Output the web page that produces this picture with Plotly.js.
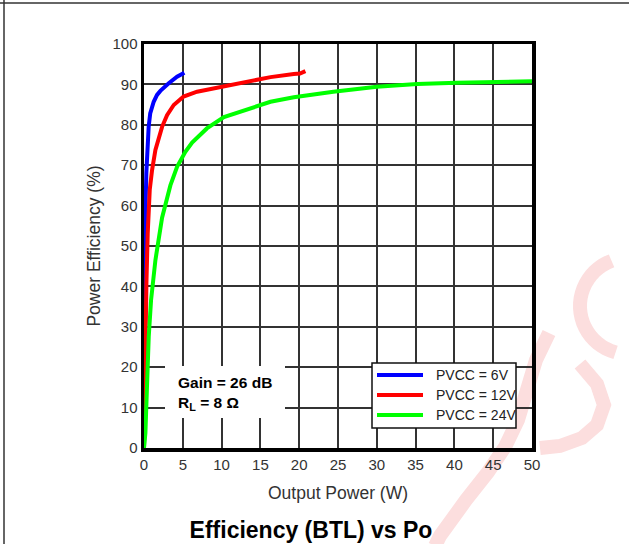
<!DOCTYPE html>
<html><head><meta charset="utf-8">
<script src="https://cdn.plot.ly/plotly-3.0.1.min.js"></script>
<style>html,body{margin:0;padding:0;background:#fff}#chart{width:629px;height:544px}</style>
</head><body><div id="chart"></div>
<script>
// ---- data ----
const seriesNames = ['PVCC = 6V', 'PVCC = 12V', 'PVCC = 24V'];
const seriesColors = ['#0000ff', '#ff0000', '#00ff00'];
const x6V  = [0, 0.05, 0.1, 0.2, 0.3, 0.4, 0.6, 0.8, 1.25, 1.68, 2.11, 3.19, 4.26, 5.2];
const y6V  = [0, 30, 45, 60, 68, 74, 79.5, 82.8, 85.7, 87.4, 88.4, 90.3, 91.9, 92.9];
const x12V = [0, 0.1, 0.18, 0.31, 0.48, 0.74, 1.04, 1.47, 2.33, 2.97, 3.83, 5.1, 6.84, 10.3, 13.9, 16.3, 19.3, 20.1, 20.8];
const y12V = [0, 18, 28.5, 40.8, 53.2, 63.9, 68.8, 73.8, 79.5, 82.4, 84.9, 87.0, 88.2, 89.6, 91.0, 91.8, 92.6, 92.7, 93.3];
const x24V = [0, 0.18, 0.4, 0.61, 0.91, 1.47, 2.33, 3.4, 4.26, 5.33, 6.2, 8.1, 10.3, 13.5, 16.3, 19.3, 24.4, 30, 35.2, 40.3, 45.5, 50];
const y24V = [0, 3.7, 16, 27.5, 36.6, 46.5, 57, 65, 69.6, 73.3, 75.6, 79.1, 81.9, 84, 85.7, 86.8, 88.2, 89.4, 90.1, 90.4, 90.7, 90.8];
const xTicks = [0, 5, 10, 15, 20, 25, 30, 35, 40, 45, 50];
const yTicks = [0, 10, 20, 30, 40, 50, 60, 70, 80, 90, 100];
const noteLines = ['<b>Gain = 26 dB</b>', '<b>R<sub>L</sub> = 8 Ω</b>'];
const chartTitle = '<b>Efficiency (BTL) vs Po</b>';
const xTitle = 'Output Power (W)';
const yTitle = 'Power Efficiency (%)';

// ---- geometry (pixel -> paper helpers for decorations) ----
const W = 629, H = 544;
const M = {l: 144, r: 97, t: 44, b: 96};
const PW = W - M.l - M.r, PH = H - M.t - M.b;
const px = p => (p - M.l) / PW;
const py = p => (H - M.b - p) / PH;
const FONT = 'Liberation Sans, Arial, sans-serif';

const xs = [x6V, x12V, x24V], ys = [y6V, y12V, y24V];
const traces = xs.map((x, i) => ({
  x: x, y: ys[i], type: 'scatter', mode: 'lines', name: seriesNames[i],
  line: {color: seriesColors[i], width: 4}, showlegend: false
}));

const shapes = [];
const annotations = [];
// faint watermark strokes (pale, behind the grid)
function poly(pts) { return 'M' + pts.map(p => px(p[0]).toFixed(4) + ',' + py(p[1]).toFixed(4)).join(' L'); }
function arc(cx, cy, r, a0, a1) { const pts = []; for (let k = 0; k <= 24; k++) { const a = (a0 + (a1 - a0) * k / 24) * Math.PI / 180; pts.push([cx + r * Math.cos(a), cy + r * Math.sin(a)]); } return pts; }
const wm = {color: 'rgb(252,222,222)', width: 14};
[
  [[549, 333], [536, 360], [527, 390], [518, 420], [505, 447], [488, 472], [466, 500], [440, 536], [435, 546]],
  [[580, 364], [597, 384], [604, 405], [597, 425], [582, 438], [560, 446], [540, 448]],
  arc(628, 306, 48, 250, 105)
].forEach(p => shapes.push({type: 'path', xref: 'paper', yref: 'paper', layer: 'below', path: poly(p), line: wm}));
// outer frame lines
shapes.push({type: 'line', xref: 'paper', yref: 'paper', x0: px(0), x1: px(W), y0: py(3), y1: py(3), line: {color: '#333', width: 1.5}});
shapes.push({type: 'line', xref: 'paper', yref: 'paper', x0: px(4), x1: px(4), y0: py(0), y1: py(H), line: {color: '#333', width: 1.5}});
// note box (white, masks grid)
shapes.push({type: 'rect', xref: 'paper', yref: 'paper', layer: 'above', x0: px(165), x1: px(285), y0: py(366), y1: py(418), fillcolor: '#fff', line: {width: 0}});
annotations.push({xref: 'paper', yref: 'paper', x: px(176), y: py(393), xanchor: 'left', yanchor: 'middle', align: 'left',
  text: noteLines.join('<br>'), showarrow: false, font: {family: FONT, size: 15.5, color: '#000'}});
// manual legend
shapes.push({type: 'rect', xref: 'paper', yref: 'paper', layer: 'above', x0: px(372), x1: px(516), y0: py(363), y1: py(428), fillcolor: '#fff', line: {color: '#111', width: 1.5}});
seriesNames.forEach((n, i) => {
  const yy = 375 + 20 * i;
  shapes.push({type: 'line', xref: 'paper', yref: 'paper', layer: 'above', x0: px(377), x1: px(423), y0: py(yy), y1: py(yy), line: {color: seriesColors[i], width: 4}});
  annotations.push({xref: 'paper', yref: 'paper', x: px(434), y: py(yy), xanchor: 'left', yanchor: 'middle', text: n, showarrow: false,
    font: {family: FONT, size: 14, color: '#222'}});
});

const layout = {
  width: W, height: H, margin: M, paper_bgcolor: '#fff', plot_bgcolor: 'rgba(0,0,0,0)',
  font: {family: FONT, color: '#333'},
  showlegend: false,
  title: {text: chartTitle, x: 311 / W, xref: 'container', xanchor: 'center', y: 1 - 530 / H, yref: 'container', yanchor: 'middle',
    font: {family: FONT, size: 23, color: '#000'}},
  xaxis: {range: [0, 50], tickvals: xTicks, ticks: '', showgrid: true, gridcolor: '#333', gridwidth: 2, zeroline: false,
    showline: true, linecolor: '#000', linewidth: 3.5, mirror: true, tickfont: {size: 15, color: '#333'},
    title: {text: xTitle, font: {size: 17.5, color: '#333'}, standoff: 16}},
  yaxis: {range: [0, 100], tickvals: yTicks, ticks: '', showgrid: true, gridcolor: '#333', gridwidth: 2, zeroline: false,
    showline: true, linecolor: '#000', linewidth: 3.5, mirror: true, tickfont: {size: 15, color: '#333'},
    title: {text: yTitle, font: {size: 17.5, color: '#333'}, standoff: 8}},
  shapes: shapes, annotations: annotations
};
Plotly.newPlot('chart', traces, layout, {displayModeBar: false, staticPlot: true});
</script></body></html>
